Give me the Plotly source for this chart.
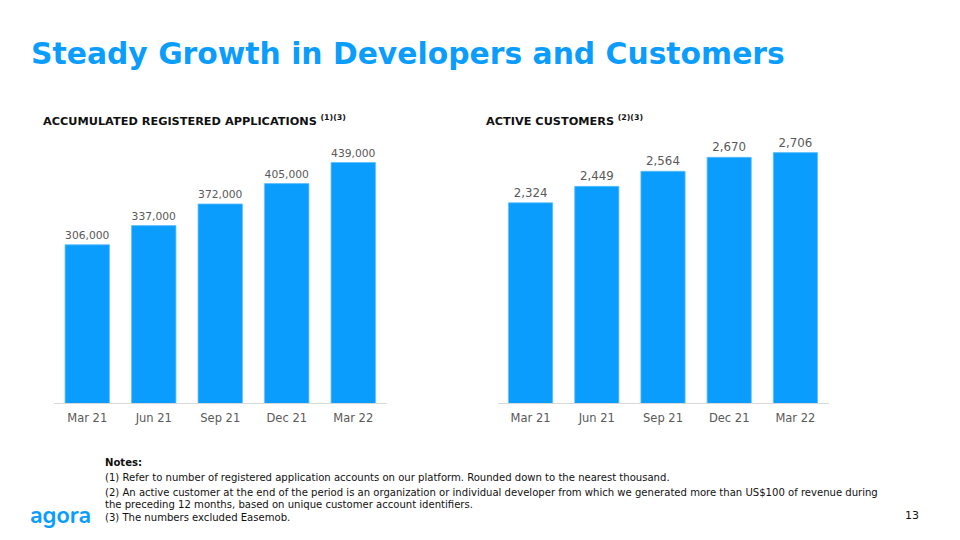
import plotly.graph_objects as go

# The page body has an 8px margin, so the figure is drawn at (8, 8).
OFF = 8
W, H = 960 - OFF, 540 - OFF

quarters = ["Mar 21", "Jun 21", "Sep 21", "Dec 21", "Mar 22"]
registered_apps = [306000, 337000, 372000, 405000, 439000]
active_customers = [2324, 2449, 2564, 2670, 2706]

BLUE = "#0B9DFD"
GREY = "#595959"
FONT = "DejaVu Sans, Verdana, sans-serif"
NOTE_FONT = "DejaVu Sans Condensed, DejaVu Sans, sans-serif"


def px_x(x):
    return (x - OFF) / W


def px_y(y):
    return 1 - (y - OFF) / H


fig = go.Figure()

fig.add_trace(go.Bar(
    x=quarters, y=registered_apps, xaxis="x", yaxis="y",
    marker=dict(color=BLUE, line=dict(color="#5CBEFF", width=0.8)),
    text=[f"{v:,}" for v in registered_apps], textposition="outside",
    textfont=dict(family=FONT, size=11.8, color=GREY), cliponaxis=False,
    hoverinfo="skip",
))
fig.add_trace(go.Bar(
    x=quarters, y=active_customers, xaxis="x2", yaxis="y2",
    marker=dict(color=BLUE, line=dict(color="#5CBEFF", width=0.8)),
    text=[f"{v:,}" for v in active_customers], textposition="outside",
    textfont=dict(family=FONT, size=11.8, color=GREY), cliponaxis=False,
    hoverinfo="skip",
))

ybot, ytop = px_y(403), px_y(140)
axis_common = dict(showgrid=False, zeroline=False, showline=True, linecolor="#D9D9D9",
                   linewidth=1, ticks="", tickfont=dict(family=FONT, size=11.5, color=GREY),
                   ticklabelstandoff=4, fixedrange=True)
fig.update_layout(
    width=W, height=H,
    margin=dict(l=0, r=0, t=0, b=0),
    paper_bgcolor="white", plot_bgcolor="white",
    showlegend=False, bargap=0.333,
    xaxis=dict(domain=[px_x(54), px_x(386.5)], anchor="y", **axis_common),
    yaxis=dict(domain=[ybot, ytop], range=[50000, 475500], visible=False, fixedrange=True),
    xaxis2=dict(domain=[px_x(497.5), px_x(828.5)], anchor="y2", **axis_common),
    yaxis2=dict(domain=[ybot, ytop], range=[800, 2802], visible=False, fixedrange=True),
)

anns = [
    dict(text="<b>Steady Growth in Developers and Customers</b>", x=px_x(29), y=px_y(54),
         font=dict(family=FONT, size=29.8, color=BLUE)),
    dict(text="<b>ACCUMULATED REGISTERED APPLICATIONS</b> <sup><b>(1)(3)</b></sup>", x=px_x(41), y=px_y(120),
         font=dict(family=FONT, size=11.3, color="#111111")),
    dict(text="<b>ACTIVE CUSTOMERS</b> <sup><b>(2)(3)</b></sup>", x=px_x(484), y=px_y(120),
         font=dict(family=FONT, size=11.3, color="#111111")),
    dict(text="<b>Notes:</b>", x=px_x(103), y=px_y(462),
         font=dict(family=NOTE_FONT, size=11.2, color="#111111")),
    dict(text="(1) Refer to number of registered application accounts on our platform. Rounded down to the nearest thousand.",
         x=px_x(103), y=px_y(477), font=dict(family=NOTE_FONT, size=11.2, color="#111111")),
    dict(text="(2) An active customer at the end of the period is an organization or individual developer from which we generated more than US$100 of revenue during",
         x=px_x(103), y=px_y(492), font=dict(family=NOTE_FONT, size=11.2, color="#111111")),
    dict(text="the preceding 12 months, based on unique customer account identifiers.",
         x=px_x(103), y=px_y(504), font=dict(family=NOTE_FONT, size=11.2, color="#111111")),
    dict(text="(3) The numbers excluded Easemob.",
         x=px_x(103), y=px_y(517), font=dict(family=NOTE_FONT, size=11.2, color="#111111")),
    dict(text="<b>agora</b>", x=px_x(28), y=px_y(515),
         font=dict(family="Nunito, Lato, sans-serif", size=23, color=BLUE)),
    dict(text="13", x=px_x(903), y=px_y(515),
         font=dict(family=FONT, size=11, color="#111111")),
]
for a in anns:
    a.update(xref="paper", yref="paper", xanchor="left", yanchor="middle", showarrow=False)
    fig.add_annotation(**a)

fig.write_html("out.html")
